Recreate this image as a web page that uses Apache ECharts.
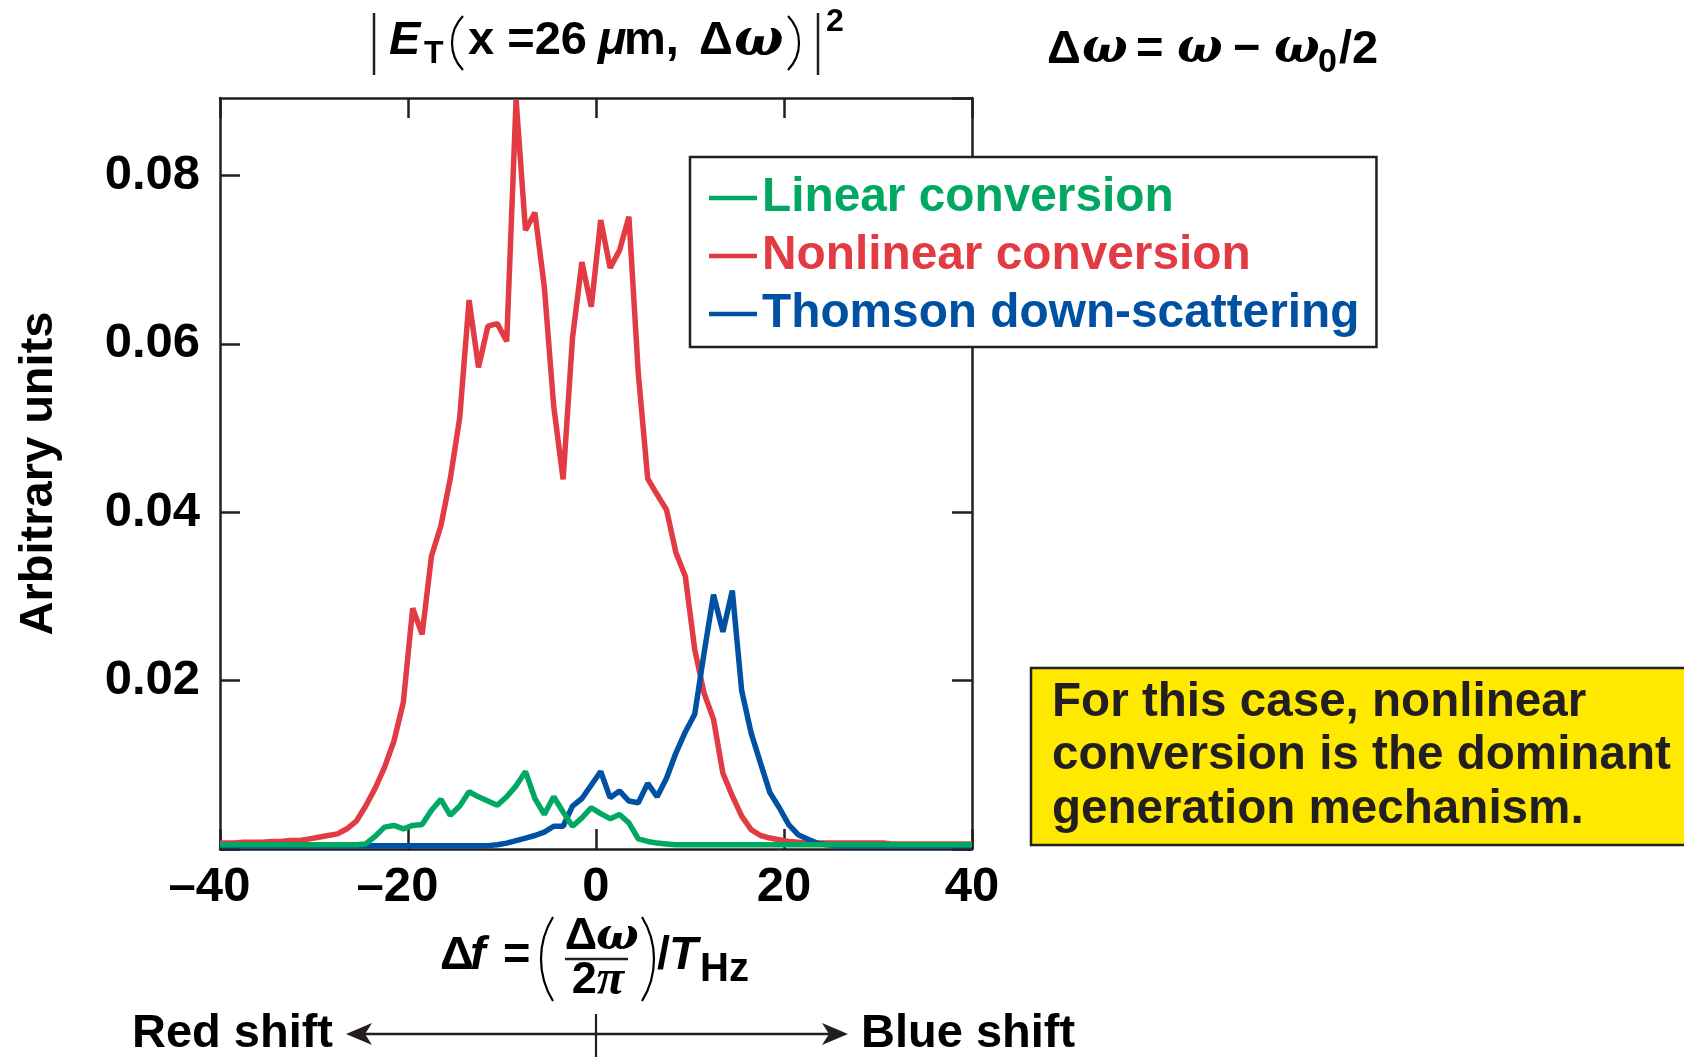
<!DOCTYPE html>
<html><head><meta charset="utf-8">
<script src="https://cdn.jsdelivr.net/npm/echarts@6/dist/echarts.min.js"></script>
<style>html,body{margin:0;padding:0;background:#fff}#c{width:1684px;height:1057px}</style>
</head><body><div id="c"></div>
<script>
// frequency shift Δf (x) sample points
const freq = [-40, -39.5, -38.5, -37.5, -36.5, -35.5, -34.5, -33.5, -32.5, -31.5, -30.5, -29.5, -28.5, -27.5, -26.5, -25.5, -24.5, -23.5, -22.5, -21.5, -20.5, -19.5, -18.5, -17.5, -16.5, -15.5, -14.5, -13.5, -12.5, -11.5, -10.5, -9.5, -8.5, -7.5, -6.5, -5.5, -4.5, -3.5, -2.5, -1.5, -0.5, 0.5, 1.5, 2.5, 3.5, 4.5, 5.5, 6.5, 7.5, 8.5, 9.5, 10.5, 11.5, 12.5, 13.5, 14.5, 15.5, 16.5, 17.5, 18.5, 19.5, 20.5, 21.5, 22.5, 23.5, 24.5, 25.5, 26.5, 27.5, 28.5, 29.5, 30.5, 31.5, 32.5, 33.5, 34.5, 35.5, 36.5, 37.5, 38.5, 39.5, 40];
const linearConv = [0.0005, 0.0005, 0.0005, 0.0005, 0.0005, 0.0005, 0.0005, 0.0005, 0.0005, 0.0005, 0.0005, 0.0005, 0.0005, 0.0005, 0.0005, 0.0005, 0.0006, 0.0015, 0.0026, 0.0028, 0.0024, 0.0028, 0.0029, 0.0046, 0.0059, 0.0040, 0.0051, 0.0068, 0.0062, 0.0057, 0.0052, 0.0062, 0.0075, 0.0092, 0.0060, 0.0041, 0.0062, 0.0044, 0.0027, 0.0037, 0.0049, 0.0042, 0.0036, 0.0041, 0.0031, 0.0012, 0.0009, 0.0007, 0.0006, 0.0005, 0.0005, 0.0005, 0.0005, 0.0005, 0.0005, 0.0005, 0.0005, 0.0005, 0.0005, 0.0005, 0.0005, 0.0005, 0.0005, 0.0005, 0.0005, 0.0005, 0.0005, 0.0005, 0.0005, 0.0005, 0.0005, 0.0005, 0.0005, 0.0005, 0.0005, 0.0005, 0.0005, 0.0005, 0.0005, 0.0005, 0.0005, 0.0005];
const nonlinearConv = [0.0007, 0.0007, 0.0007, 0.0008, 0.0008, 0.0008, 0.0009, 0.0009, 0.0010, 0.0010, 0.0012, 0.0014, 0.0016, 0.0018, 0.0024, 0.0033, 0.0051, 0.0072, 0.0097, 0.0128, 0.0174, 0.0286, 0.0255, 0.0348, 0.0384, 0.0440, 0.0512, 0.0652, 0.0572, 0.0621, 0.0624, 0.0603, 0.0890, 0.0735, 0.0756, 0.0668, 0.0526, 0.0439, 0.0607, 0.0697, 0.0644, 0.0747, 0.0690, 0.0711, 0.0751, 0.0565, 0.0440, 0.0421, 0.0403, 0.0352, 0.0324, 0.0237, 0.0185, 0.0154, 0.0090, 0.0063, 0.0039, 0.0023, 0.0016, 0.0013, 0.0011, 0.0009, 0.0008, 0.0007, 0.0007, 0.0007, 0.0007, 0.0007, 0.0007, 0.0007, 0.0007, 0.0007, 0.0006, 0.0006, 0.0006, 0.0006, 0.0006, 0.0006, 0.0006, 0.0006, 0.0006, 0.0006];
const thomson = [0.0004, 0.0004, 0.0004, 0.0004, 0.0004, 0.0004, 0.0004, 0.0004, 0.0004, 0.0004, 0.0004, 0.0004, 0.0004, 0.0004, 0.0004, 0.0004, 0.0004, 0.0004, 0.0004, 0.0004, 0.0004, 0.0004, 0.0004, 0.0004, 0.0004, 0.0004, 0.0004, 0.0004, 0.0004, 0.0004, 0.0005, 0.0007, 0.0010, 0.0013, 0.0016, 0.0020, 0.0027, 0.0027, 0.0051, 0.0060, 0.0076, 0.0092, 0.0061, 0.0069, 0.0057, 0.0055, 0.0078, 0.0062, 0.0084, 0.0114, 0.0139, 0.0160, 0.0233, 0.0302, 0.0258, 0.0307, 0.0188, 0.0138, 0.0102, 0.0067, 0.0049, 0.0029, 0.0017, 0.0012, 0.0007, 0.0005, 0.0004, 0.0004, 0.0004, 0.0004, 0.0004, 0.0004, 0.0004, 0.0004, 0.0004, 0.0004, 0.0004, 0.0004, 0.0004, 0.0004, 0.0004, 0.0004];
const seriesNames = ['Linear conversion', 'Nonlinear conversion', 'Thomson down-scattering'];
const noteLines = ['For this case, nonlinear', 'conversion is the dominant', 'generation mechanism.'];

const GREEN = '#00A862', RED = '#E23B44', BLUE = '#0051A2', AX = '#231F20';
const SANS = 'Liberation Sans', SERIF = 'DejaVu Serif', SERIF2 = 'Liberation Serif';

function t(x, y, text, size, opts) {
  opts = opts || {};
  return { type: 'text', x: x, y: y, z: 100, style: {
    text: text, fontSize: size, fontFamily: opts.family || SANS,
    fontWeight: opts.weight || 'bold', fontStyle: opts.italic ? 'italic' : 'normal',
    fill: opts.fill || '#000', textAlign: opts.align || 'left', textVerticalAlign: 'middle', rich: opts.rich
  }};
}
function om(x, y, size) { return t(x, y, 'ω', size || 46, {italic: true, family: SERIF}); }
function line(x1, y1, x2, y2, w) {
  return { type: 'line', z: 100, shape: {x1: x1, y1: y1, x2: x2, y2: y2}, style: {stroke: AX, lineWidth: w || 2.5} };
}
function paren(xL, xR, yT, yB, side) {
  const w = xR - xL, h = (yB - yT) / 2;
  const r = (h * h + w * w) / (2 * w);
  const half = Math.asin(h / r);
  const cy = (yT + yB) / 2;
  const shape = side === 'left'
    ? {cx: xL + r, cy: cy, r: r, startAngle: Math.PI - half, endAngle: Math.PI + half, clockwise: true}
    : {cx: xR - r, cy: cy, r: r, startAngle: -half, endAngle: half, clockwise: true};
  return { type: 'arc', z: 100, shape: shape, style: {stroke: '#000', fill: 'none', lineWidth: 2.2} };
}

const graphics = [
  // title |E_T(x = 26 μm, Δω)|^2
  line(374, 13, 374, 75, 2.5),
  t(389, 41, 'E', 47, {italic: true}),
  t(424, 54, 'T', 32),
  paren(452, 463, 16, 70, 'left'),
  t(468, 41, 'x =26', 47),
  t(598, 41, 'μ', 47, {italic: true}),
  t(624, 41, 'm,', 47),
  t(699, 41, 'Δ', 47),
  om(734, 41, 52),
  paren(788, 799, 16, 70, 'right'),
  line(818, 13, 818, 75, 2.5),
  t(826, 22, '2', 32),
  // Δω = ω − ω0/2
  t(1047, 50, 'Δ', 47),
  om(1082, 50, 48),
  t(1136, 50, '=', 47),
  om(1177, 50, 48),
  t(1233, 50, '−', 47),
  om(1274, 50, 48),
  t(1318, 63, '0', 34),
  t(1339, 50, '/2', 47),
  // Δf = (Δω/2π)/T_Hz
  t(440, 956, 'Δ', 47),
  t(470, 956, 'f', 47, {italic: true}),
  t(503, 956, '=', 47),
  paren(541, 553, 917, 1001, 'left'),
  t(597, 937, 'Δ', 45, {align: 'right'}),
  om(596, 937, 45),
  line(565, 959, 628, 959, 2.5),
  t(598, 981, '{a|2}{b|π}', 45, {align: 'center', rich: {
    a: {fontSize: 45, fontWeight: 'bold', fontFamily: SANS, fill: '#000'},
    b: {fontSize: 50, fontWeight: 'bold', fontStyle: 'italic', fontFamily: SERIF2, fill: '#000'}}}),
  paren(642, 654, 917, 1001, 'right'),
  t(657, 956, '/', 47),
  t(669, 956, 'T', 47, {italic: true}),
  t(700, 970, 'Hz', 40),
  // red / blue shift
  t(333, 1034, 'Red shift', 47, {align: 'right'}),
  t(861, 1034, 'Blue shift', 47),
  line(352, 1034, 842, 1034, 2.5),
  line(596, 1014, 596, 1057, 2.2),
  {type: 'polygon', z: 100, shape: {points: [[346, 1034], [372, 1023], [365, 1034], [372, 1045]]}, style: {fill: AX}},
  {type: 'polygon', z: 100, shape: {points: [[848, 1034], [822, 1023], [829, 1034], [822, 1045]]}, style: {fill: AX}},
  // yellow note box
  {type: 'rect', z: 90, shape: {x: 1031, y: 668, width: 700, height: 177}, style: {fill: '#FFE900', stroke: AX, lineWidth: 2.5}},
  t(1052, 703, noteLines[0], 47.6, {fill: '#231F20'}),
  t(1052, 756, noteLines[1], 47.6, {fill: '#231F20'}),
  t(1052, 810, noteLines[2], 47.6, {fill: '#231F20'})
];

const axisLineStyle = {color: AX, width: 2.5};
const chart = echarts.init(document.getElementById('c'), null, {renderer: 'canvas'});
const mk = (arr) => freq.map((x, i) => [x, arr[i]]);
chart.setOption({
  animation: false,
  backgroundColor: '#fff',
  grid: {left: 220, right: 712, top: 98, bottom: 208, containLabel: false, outerBoundsMode: 'none'},
  legend: {
    orient: 'vertical', left: 690, top: 157, icon: 'rect', itemWidth: 48, itemHeight: 4.5, itemGap: 8,
    padding: [16, 17, 8, 19], backgroundColor: '#fff', borderColor: AX, borderWidth: 2.5, borderRadius: 0,
    textStyle: {fontSize: 47.8, fontWeight: 'bold', fontFamily: SANS, lineHeight: 50},
    data: [
      {name: seriesNames[0], textStyle: {color: GREEN}},
      {name: seriesNames[1], textStyle: {color: RED}},
      {name: seriesNames[2], textStyle: {color: BLUE}}
    ]
  },
  xAxis: [
    {type: 'value', min: -40, max: 40, interval: 20, position: 'bottom',
     axisLine: {onZero: false, lineStyle: axisLineStyle}, axisTick: {inside: true, length: 20, lineStyle: axisLineStyle},
     splitLine: {show: false},
     axisLabel: {fontSize: 49, fontWeight: 'bold', fontFamily: SANS, color: '#000', margin: 14,
       formatter: v => v < 0 ? '{neg|–' + Math.abs(v) + '}' : String(v),
       rich: {neg: {fontSize: 49, fontWeight: 'bold', fontFamily: SANS, color: '#000', padding: [0, 21, 0, 0]}}}},
    {type: 'value', min: -40, max: 40, interval: 20, position: 'top',
     axisLine: {onZero: false, lineStyle: axisLineStyle}, axisTick: {inside: true, length: 20, lineStyle: axisLineStyle},
     splitLine: {show: false}, axisLabel: {show: false}}
  ],
  yAxis: [
    {type: 'value', min: 0, max: 0.0892, interval: 0.02, position: 'left',
     name: 'Arbitrary units', nameLocation: 'middle', nameRotate: 90, nameGap: 157,
     nameTextStyle: {fontSize: 47, fontWeight: 'bold', fontFamily: SANS, color: '#000'},
     axisLine: {onZero: false, lineStyle: axisLineStyle}, axisTick: {inside: true, length: 20, lineStyle: axisLineStyle},
     splitLine: {show: false},
     axisLabel: {fontSize: 49, fontWeight: 'bold', fontFamily: SANS, color: '#000', margin: 20, showMaxLabel: false,
       formatter: v => v === 0 ? '' : v.toFixed(2)}},
    {type: 'value', min: 0, max: 0.0892, interval: 0.02, position: 'right',
     axisLine: {onZero: false, lineStyle: axisLineStyle}, axisTick: {inside: true, length: 20, lineStyle: axisLineStyle},
     splitLine: {show: false}, axisLabel: {show: false}}
  ],
  series: [
    {name: seriesNames[1], type: 'line', data: mk(nonlinearConv), showSymbol: false, z: 2,
     lineStyle: {color: RED, width: 5.5}, itemStyle: {color: RED}},
    {name: seriesNames[2], type: 'line', data: mk(thomson), showSymbol: false, z: 3,
     lineStyle: {color: BLUE, width: 5.5}, itemStyle: {color: BLUE}},
    {name: seriesNames[0], type: 'line', data: mk(linearConv), showSymbol: false, z: 4,
     lineStyle: {color: GREEN, width: 5.5}, itemStyle: {color: GREEN}}
  ],
  graphic: {elements: graphics}
});
</script>
</body></html>
